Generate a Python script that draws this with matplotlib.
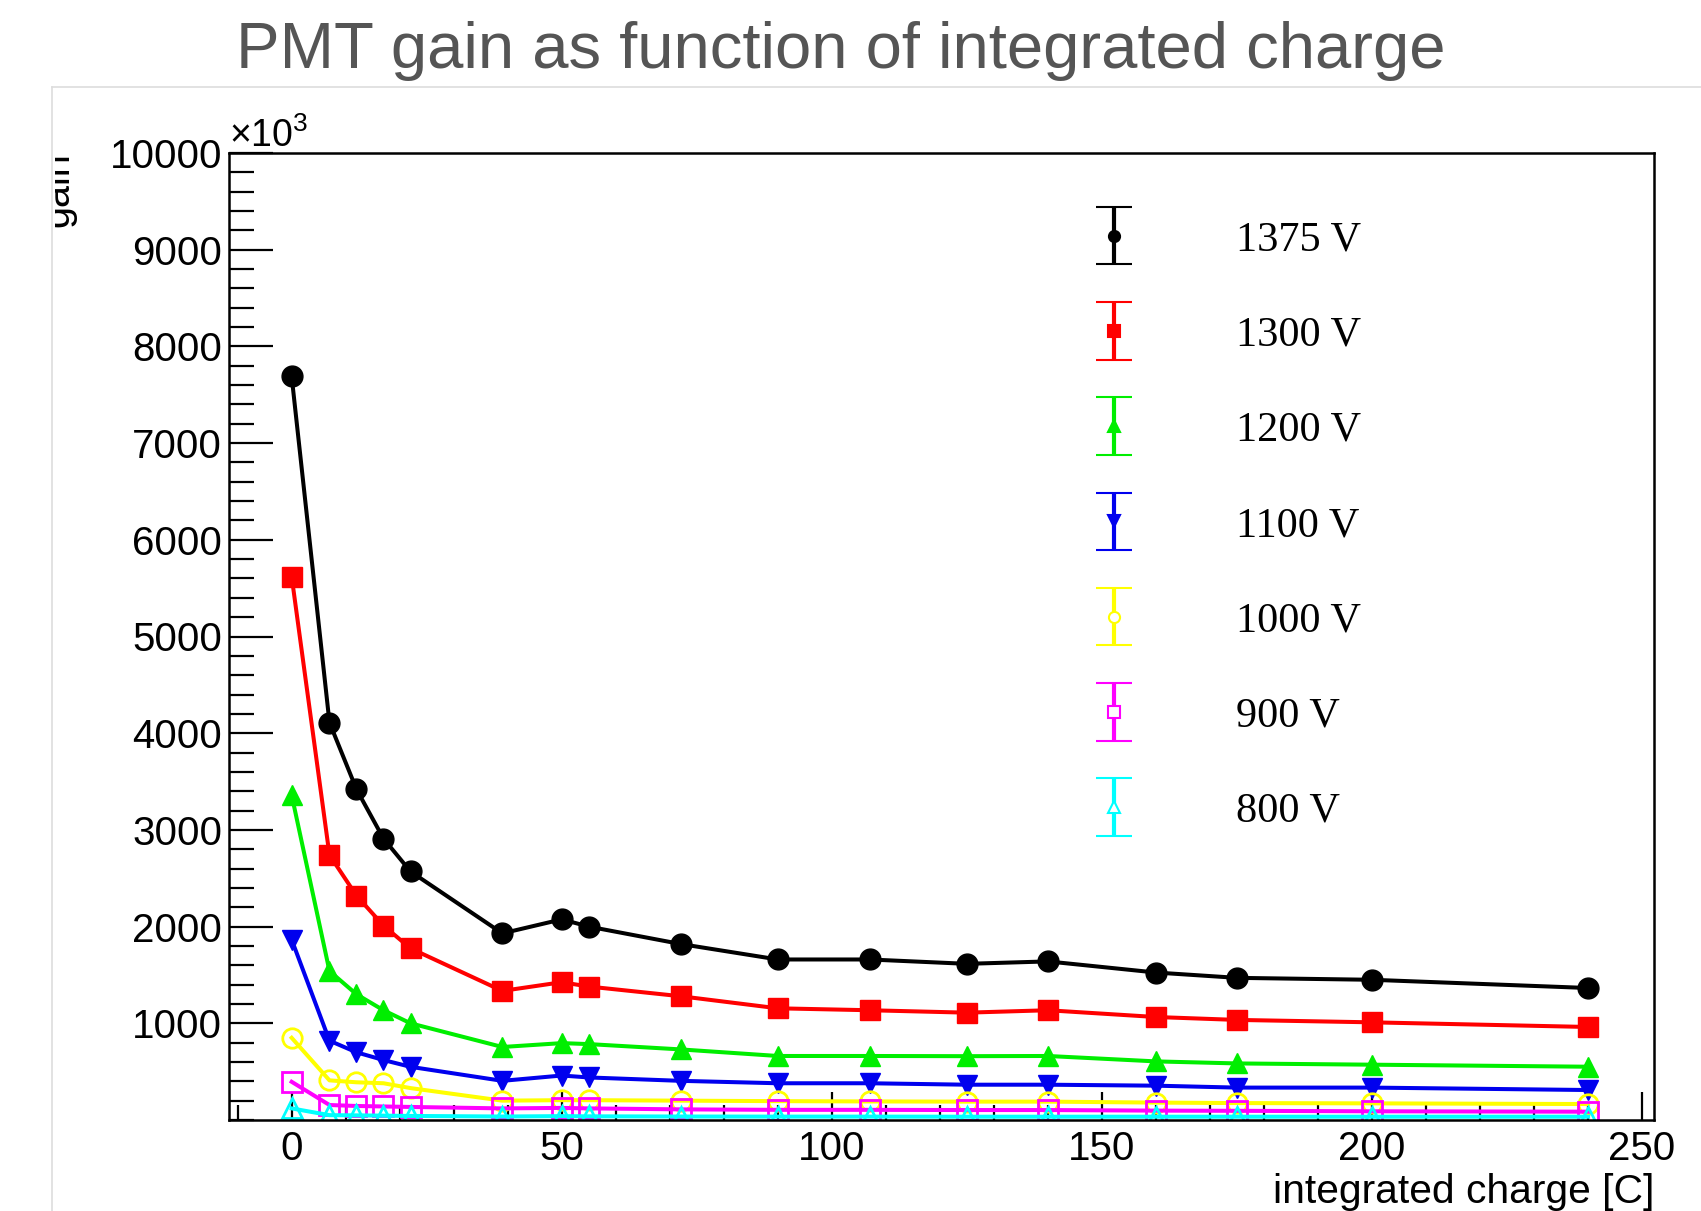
import numpy as np
import matplotlib
matplotlib.use('Agg')
import matplotlib.pyplot as plt
from matplotlib.lines import Line2D
from matplotlib.ticker import FixedLocator
from matplotlib.legend_handler import HandlerErrorbar
from matplotlib.container import ErrorbarContainer
from matplotlib.transforms import Bbox, TransformedBbox

plt.rcParams['font.family'] = ['Liberation Sans', 'DejaVu Sans']
plt.rcParams['mathtext.fontset'] = 'custom'
plt.rcParams['mathtext.rm'] = 'Liberation Sans'
plt.rcParams['mathtext.it'] = 'Liberation Sans:italic'

# integrated charge [C]
charge = [0, 7, 12, 17, 22, 39, 50, 55, 72, 90, 107, 125, 140, 160, 175, 200, 240]

# gain (x10^3) per HV setting
gain_1375 = [7690, 4110, 3420, 2910, 2570, 1930, 2075, 2000, 1820, 1660, 1660, 1615, 1640, 1525, 1470, 1450, 1365]
gain_1300 = [5620, 2740, 2320, 2010, 1775, 1335, 1425, 1380, 1280, 1155, 1135, 1110, 1135, 1065, 1035, 1010, 962]
gain_1200 = [3360, 1540, 1300, 1135, 1000, 755, 795, 785, 730, 662, 662, 660, 662, 606, 585, 572, 551]
gain_1100 = [1865, 820, 700, 620, 550, 405, 460, 440, 405, 380, 380, 365, 365, 355, 335, 335, 310]
gain_1000 = [850, 410, 390, 380, 330, 200, 205, 205, 200, 195, 192, 190, 190, 180, 175, 172, 165]
gain_900 = [395, 155, 145, 140, 135, 120, 125, 120, 110, 105, 105, 103, 103, 97, 95, 90, 86]
gain_800 = [120, 50, 48, 45, 42, 36, 40, 38, 36, 35, 35, 34, 34, 34, 34, 34, 34]

labels = ['1375 V', '1300 V', '1200 V', '1100 V', '1000 V', '900 V', '800 V']
series = [gain_1375, gain_1300, gain_1200, gain_1100, gain_1000, gain_900, gain_800]
colors = ['black', '#ff0000', '#00ee00', '#0000ee', '#ffff00', '#ff00ff', '#00ffff']
markers = ['o', 's', '^', 'v', 'o', 's', '^']
filled = [True, True, True, True, False, False, False]

W, H = 1701, 1211
fig = plt.figure(figsize=(W / 100, H / 100), dpi=100)
ax = fig.add_axes([229 / W, 1 - 1120 / H, 1425 / W, 967 / H])

for y, c, m, f in zip(series, colors, markers, filled):
    if f:
        ax.plot(charge, y, color=c, lw=2.9, marker=m, ms=15, mfc=c, mec=c)
    else:
        ax.plot(charge, y, color=c, lw=2.9, marker=m, ms=14, mfc='none', mec=c, mew=2)

ax.set_xlim(-11.6, 252.2)
ax.set_ylim(0, 10000)

ax.xaxis.set_major_locator(FixedLocator(np.arange(0, 251, 50)))
ax.xaxis.set_minor_locator(FixedLocator(np.arange(-10, 251, 10)))
ax.yaxis.set_major_locator(FixedLocator(np.arange(1000, 10001, 1000)))
ax.yaxis.set_minor_locator(FixedLocator(np.arange(0, 10001, 200)))

ax.tick_params(axis='both', which='both', direction='in', top=False, right=False, width=1.6,
               labelsize=29)
ax.tick_params(axis='y', which='major', length=32, pad=5)
ax.tick_params(axis='y', which='minor', length=18)
ax.tick_params(axis='x', which='major', length=20, pad=7)
ax.tick_params(axis='x', which='minor', length=11)
for s in ax.spines.values():
    s.set_linewidth(1.8)

ax.set_xlabel('integrated charge [C]', fontsize=29.3, loc='right', labelpad=3.5)

ax.text(0, 1.0062, r'$\times10^{3}$', transform=ax.transAxes, fontsize=27,
        ha='left', va='baseline')

# y axis title, cut by the slide border
ylab = fig.text(76.5 / W, 1 - 152 / H, 'gain', rotation=90, fontsize=28.5,
                ha='right', va='top')
ylab.set_clip_box(TransformedBbox(Bbox([[55 / W, 0], [1, 1]]), fig.transFigure))

# legend with error bar style symbols
handles = []
for c, m, f in zip(colors, markers, filled):
    h = ax.errorbar([np.nan], [np.nan], yerr=[1], fmt=m, color=c, ms=8,
                    mfc=c if f else 'white', mec=c, mew=1.5,
                    elinewidth=3, capsize=13, capthick=3)
    handles.append(h)
ax.legend(handles, labels, loc='upper left', bbox_to_anchor=(0.5765, 0.9518),
          frameon=False, borderpad=0, handlelength=2, handletextpad=1.87,
          labelspacing=1.336, prop={'family': 'Liberation Serif', 'size': 30.5},
          handler_map={ErrorbarContainer: HandlerErrorbar(yerr_size=0.68)})

# slide title and frame
fig.text(841 / W, 1 - 68 / H, 'PMT gain as function of integrated charge',
         fontsize=47, color='#555555', ha='center', va='baseline')
fig.add_artist(Line2D([52 / W, 1], [1 - 87 / H, 1 - 87 / H], transform=fig.transFigure,
                      color='#dddddd', lw=1.2))
fig.add_artist(Line2D([52 / W, 52 / W], [0, 1 - 87 / H], transform=fig.transFigure,
                      color='#dddddd', lw=1.2))

fig.savefig('out.png', dpi=100)
